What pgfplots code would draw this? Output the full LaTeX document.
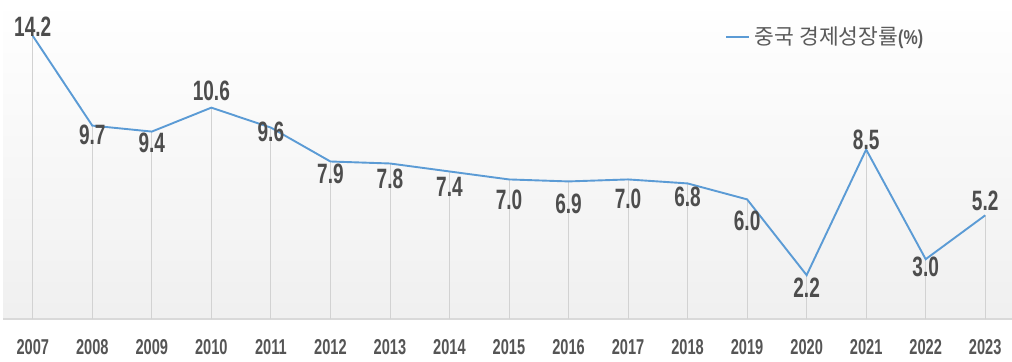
\documentclass[border=0pt]{standalone}
\usepackage{fontspec}
\usepackage{pgfplots}
\usepackage{pgfplotstable}
\pgfplotsset{compat=1.18}
\setmainfont{Liberation Sans}
\newfontfamily\numfont[FakeStretch=0.68]{Liberation Sans}
\newfontfamily\pctfont[FakeStretch=0.80]{Liberation Sans}
\newfontfamily\kr{Noto Sans CJK KR}
\definecolor{lineblue}{HTML}{5B9BD5}
\definecolor{labcol}{HTML}{4D4D4D}
\definecolor{yearcol}{HTML}{555555}
\definecolor{dropcol}{HTML}{D2D2D2}
\definecolor{axcol}{HTML}{D9D9D9}
\definecolor{legcol}{HTML}{5A5A5A}

\pgfplotstableread{
x y lab up
0 14.2 14.2 9.6
1 9.7 9.7 -9.5
2 9.4 9.4 -11
3 10.6 10.6 17
4 9.6 9.6 -4
5 7.9 7.9 -12.8
6 7.8 7.8 -15.4
7 7.4 7.4 -15.3
8 7.0 7.0 -20.3
9 6.9 6.9 -22.3
10 7.0 7.0 -19.8
11 6.8 6.8 -13.3
12 6.0 6.0 -21.9
13 2.2 2.2 -12.3
14 8.5 8.5 9.2
15 3.0 3.0 -7.2
16 5.2 5.2 14.4
}\gdp

\begin{document}
\begin{tikzpicture}
\begin{axis}[
  name=ax,
  scale only axis,
  width=1009bp, height=319bp,
  xmin=-0.5, xmax=16.45,
  ymin=0, ymax=16,
  clip=false,
  axis background/.style={top color=white, bottom color=black!6},
  axis x line*=bottom,
  hide y axis,
  x axis line style={draw=axcol, line width=1.3bp},
  xtick={0,...,16},
  xticklabels={2007,2008,2009,2010,2011,2012,2013,2014,2015,2016,2017,2018,2019,2020,2021,2022,2023},
  major tick length=0pt,
  xticklabel style={inner sep=0pt, anchor=north, yshift=-20bp, text=yearcol,
    font=\numfont\bfseries\fontsize{21.5bp}{24bp}\selectfont},
  ytick=\empty,
  legend style={draw=none, fill=none, at={(0.7156,0.885)}, anchor=west,
    inner sep=0pt, outer sep=0pt, column sep=5bp,
    nodes={inner sep=0pt, text=legcol}},
  legend cell align=left,
  legend image code/.code={\draw[#1] (0bp,0bp) -- (23bp,0bp);},
]
\addplot[ycomb, draw=dropcol, line width=0.8bp, forget plot] table[x=x, y=y] {\gdp};
\addplot[draw=lineblue, line width=1.9bp, mark=none,
  point meta=explicit symbolic,
  nodes near coords,
  visualization depends on={\thisrow{up} \as \up},
  every node near coord/.append style={anchor=center, inner sep=0pt, yshift=\up bp,
    text=labcol, font=\numfont\bfseries\fontsize{28bp}{30bp}\selectfont},
] table[x=x, y=y, meta=lab] {\gdp};
\addlegendentry{{\kr\fontsize{21.5bp}{24bp}\selectfont 중국 경제성장률}{\pctfont\bfseries\fontsize{20bp}{24bp}\selectfont(\%)}}
\end{axis}
\pgfresetboundingbox
\path[use as bounding box] ([xshift=-3bp,yshift=-42.7bp]ax.south west) rectangle (ax.north east);
\end{tikzpicture}
\end{document}
